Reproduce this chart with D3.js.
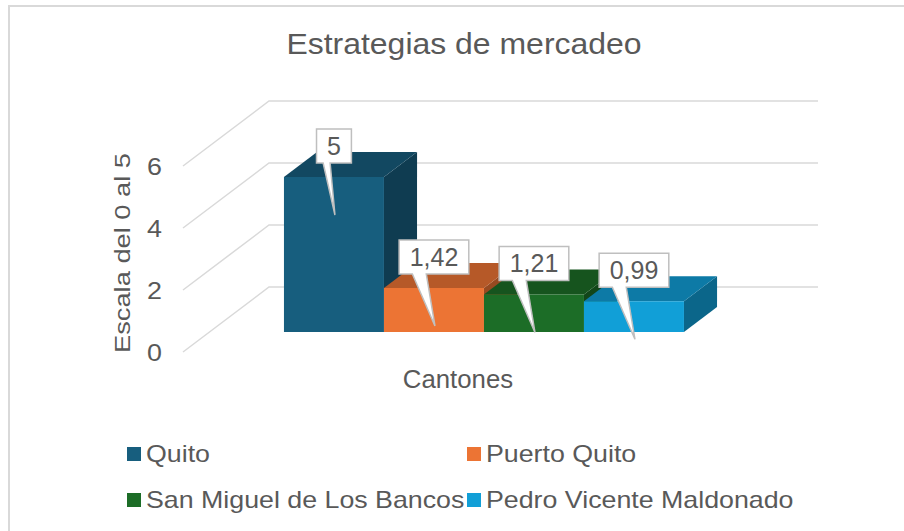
<!DOCTYPE html>
<html>
<head>
<meta charset="utf-8">
<script src="https://cdn.jsdelivr.net/npm/d3@7"></script>
<style>
  body { margin: 0; background: #fff; }
  text { font-family: "Liberation Sans", Arial, sans-serif; fill: #595959; }
</style>
</head>
<body>
<svg id="chart" width="904" height="531"></svg>
<script>
// ---- data ----
const chartTitle = "Estrategias de mercadeo";
const categoryName = "Cantones";
const yAxisTitle = "Escala del 0 al 5";
const series = ["Quito", "Puerto Quito", "San Miguel de Los Bancos", "Pedro Vicente Maldonado"];
const values = [5, 1.42, 1.21, 0.99];
const valueLabels = ["5", "1,42", "1,21", "0,99"];
const yTicks = [0, 2, 4, 6];
const colors = ["#175e7e", "#ec7434", "#1c6d27", "#119fd7"];

// ---- setup ----
const svg = d3.select("#chart");
const W = 904, H = 531;

// widen a text element horizontally by a factor
function stretch(sel, f) {
  sel.each(function () {
    const n = this;
    const len = n.getComputedTextLength();
    d3.select(n).attr("textLength", len * f).attr("lengthAdjust", "spacingAndGlyphs");
  });
  return sel;
}

// outer frame
svg.append("rect")
  .attr("x", 9).attr("y", 6).attr("width", W).attr("height", H)
  .attr("fill", "none").attr("stroke", "#d9d9d9").attr("stroke-width", 2);

// oblique projection: depth z shifts up by z px and right by z*kx px
const kx = 86 / 65;
const zBarFront = 20, zBarBack = 45, zWall = 65;
const y = d3.scaleLinear().domain([0, 6]).range([352, 166]);
const x = d3.scaleBand().domain(series).range([257.5, 657.5]).padding(0);
const wallX0 = 183, wallX1 = 732;
const proj = (px, v, z) => [px + z * kx, y(v) - z];

function shade(c, f) {
  const r = d3.rgb(c);
  return d3.rgb(r.r * f, r.g * f, r.b * f).formatHex();
}

// title
stretch(svg.append("text")
  .attr("x", 464).attr("y", 54)
  .attr("text-anchor", "middle")
  .attr("font-size", 30)
  .text(chartTitle), 1.065);

// walls: back wall gridlines and side wall lines
const grid = svg.append("g").attr("stroke", "#d9d9d9").attr("stroke-width", 1.5).attr("fill", "none");
yTicks.forEach(t => {
  const a = proj(wallX0, t, zWall), b = proj(wallX1, t, zWall), c = proj(wallX0, t, 0);
  grid.append("path").attr("d", `M${c[0]},${c[1]}L${a[0]},${a[1]}L${b[0]},${b[1]}`);
});

// y tick labels
stretch(svg.append("g").selectAll("text").data(yTicks).join("text")
  .attr("x", 162).attr("y", d => y(d))
  .attr("dy", "0.36em")
  .attr("text-anchor", "end")
  .attr("font-size", 24)
  .text(d => d), 1.12);

// y axis title
svg.append("text")
  .attr("transform", "translate(130,253) rotate(-90)")
  .attr("text-anchor", "middle")
  .attr("font-size", 22)
  .attr("textLength", 200)
  .attr("lengthAdjust", "spacingAndGlyphs")
  .text(yAxisTitle);

// category label
stretch(svg.append("text")
  .attr("x", 458).attr("y", 388)
  .attr("text-anchor", "middle")
  .attr("font-size", 25)
  .text(categoryName), 1.03);

// bars (drawn left to right so each right face sits behind the next bar)
const bars = svg.append("g");
series.forEach((s, i) => {
  const v = values[i];
  const x0 = x(s), x1 = x(s) + x.bandwidth();
  const f00 = proj(x0, 0, zBarFront), f10 = proj(x1, 0, zBarFront);
  const f01 = proj(x0, v, zBarFront), f11 = proj(x1, v, zBarFront);
  const b01 = proj(x0, v, zBarBack), b11 = proj(x1, v, zBarBack), b10 = proj(x1, 0, zBarBack);
  const poly = pts => "M" + pts.map(p => p.join(",")).join("L") + "Z";
  const g = bars.append("g");
  g.append("path").attr("d", poly([f11, b11, b10, f10])).attr("fill", shade(colors[i], 0.64));
  g.append("path").attr("d", poly([f01, b01, b11, f11])).attr("fill", shade(colors[i], 0.77));
  g.append("path").attr("d", poly([f00, f01, f11, f10])).attr("fill", colors[i]);
});

// callout data labels
const callouts = svg.append("g");
series.forEach((s, i) => {
  const v = values[i];
  const top = proj(x(s) + x.bandwidth() / 2, v, zBarFront);
  const cx = top[0], topY = top[1];
  const g = callouts.append("g");
  const txt = g.append("text")
    .attr("font-size", 25)
    .attr("text-anchor", "middle")
    .attr("fill", "#404040")
    .text(valueLabels[i]);
  const tw = txt.node().getComputedTextLength();
  const w = tw + 21, h = 34;
  const bx = cx - w / 2, by = topY - 31 - h / 2;
  const tipX = cx + 1, tipY = topY + 38;
  const baseL = bx + 0.19 * w, baseR = bx + 0.39 * w;
  const d = `M${bx},${by}H${bx + w}V${by + h}H${baseR}L${tipX},${tipY}L${baseL},${by + h}H${bx}Z`;
  g.insert("path", "text").attr("d", d)
    .attr("fill", "#fff").attr("stroke", "#bfbfbf").attr("stroke-width", 1.5);
  txt.attr("x", cx).attr("y", by + h / 2).attr("dy", "0.36em");
});

// legend
const legend = svg.append("g");
const legX = [127, 467], legY = [447, 493];
series.forEach((s, i) => {
  const lx = legX[i % 2], ly = legY[Math.floor(i / 2)];
  legend.append("rect").attr("x", lx).attr("y", ly).attr("width", 14).attr("height", 14).attr("fill", colors[i]);
  stretch(legend.append("text").attr("x", lx + 19).attr("y", ly + 15).attr("font-size", 24).text(s), 1.115);
});
</script>
</body>
</html>
